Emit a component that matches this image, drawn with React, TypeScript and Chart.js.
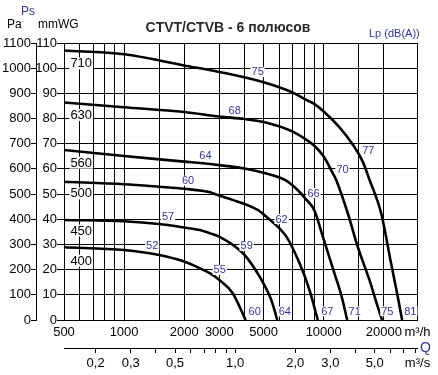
import { useEffect, useRef } from 'react';
import { Chart, registerables } from 'chart.js';

Chart.register(...registerables);

// ---------- axes ----------
const FLOW_MIN = 500;
const FLOW_MAX = 29500;
const FLOW_TICKS = [500, 600, 700, 800, 900, 1000, 1500, 2000, 3000, 4000, 5000, 6000, 7000, 8000, 9000, 10000, 15000, 20000, 29500];
const FLOW_TEXT = ['500', '', '', '', '', '1000', '', '2000', '3000', '', '5000', '', '', '', '', '10000', '', '20000', 'm³/h'];
const QS_TICKS = [0.2, 0.3, 0.4, 0.5, 0.6, 0.7, 0.8, 0.9, 1, 2, 3, 4, 5, 6, 7, 8];
const QS_TEXT = ['0,2', '0,3', '', '0,5', '', '', '', '', '1,0', '2,0', '3,0', '', '5,0', '', '', ''];
const QS_UNIT = 'm³/s';
const PA_MAX = 1100;
const MM_MAX = 110;

// ---------- fan curves (Q m³/h, Ps Pa) ----------
const SIZES = ['710', '630', '560', '500', '450', '400'];
const Q710 = [500, 1000, 2000, 3000, 5000, 7000, 8000, 9000, 10000, 12000, 14000, 15700, 16900, 19400, 21750, 23500, 24700];
const P710 = [1070, 1055, 1011, 985, 944, 903, 878, 857, 828, 765, 696, 628, 560, 424, 225, 92, 0];
const Q630 = [500, 1000, 2000, 3000, 4000, 5000, 7000, 8000, 9000, 10000, 11100, 11550, 13200, 14800, 16940, 18640, 19600];
const P630 = [864, 845, 826, 808, 798, 786, 748, 721, 691, 649, 583, 556, 424, 291, 159, 53, 0];
const Q560 = [500, 1000, 2000, 3000, 4000, 5000, 6400, 7400, 8200, 8960, 9900, 11320, 12310, 13110];
const P560 = [675, 651, 629, 615, 602, 585, 556, 516, 477, 437, 331, 185, 92, 0];
const Q500 = [500, 1000, 1500, 2000, 2700, 2950, 3500, 4670, 5160, 6500, 7570, 8490, 9340];
const P500 = [549, 539, 529, 521, 507, 496, 477, 437, 410, 331, 225, 119, 0];
const Q450 = [500, 1000, 1500, 2000, 2400, 2700, 3000, 3940, 4775, 5465, 5855];
const P450 = [397, 392, 381, 367, 357, 344, 331, 265, 172, 79, 0];
const Q400 = [500, 1000, 1500, 2000, 2400, 2700, 3000, 3500, 4064];
const P400 = [289, 278, 258, 232, 205, 185, 159, 106, 0];

// fan size labels
const SIZE_Q = 610;
const SIZE_P = [1019, 814, 625, 503, 355, 236];

// Lp dB(A) labels along curves
const LP_TEXT = ['75', '68', '64', '60', '57', '52', '77', '70', '66', '62', '59', '55', '81', '75', '71', '67', '64', '60'];
const LP_Q = [4666, 3580, 2555, 2091, 1661, 1382, 16720, 12420, 8890, 6150, 4110, 3013, 27160, 20840, 14300, 10430, 6380, 4510];
const LP_P = [985, 834, 652, 553, 410, 294, 675, 596, 504, 401, 294, 199, 35, 35, 35, 34, 34, 33];

const BLUE = '#35359a';
const FONT = '"Liberation Sans", Arial, Helvetica, sans-serif';

const SERIES = [
  { q: Q710, p: P710 },
  { q: Q630, p: P630 },
  { q: Q560, p: P560 },
  { q: Q500, p: P500 },
  { q: Q450, p: P450 },
  { q: Q400, p: P400 },
];

const textPlugin = {
  id: 'fanTexts',
  afterDraw(chart: any) {
    const c = chart.ctx as CanvasRenderingContext2D;
    const xs = chart.scales.x;
    const ys = chart.scales.pa;
    c.save();
    c.textAlign = 'center';
    c.textBaseline = 'middle';
    // Lp labels
    c.font = `11px ${FONT}`;
    LP_TEXT.forEach((t, i) => {
      const px = xs.getPixelForValue(LP_Q[i]);
      const py = ys.getPixelForValue(LP_P[i]);
      const w = c.measureText(t).width;
      c.fillStyle = '#fff';
      c.fillRect(px - w / 2 - 1, py - 5, w + 2, 10);
      c.fillStyle = BLUE;
      c.fillText(t, px, py + 0.5);
    });
    // size labels
    c.font = `13px ${FONT}`;
    SIZES.forEach((t, i) => {
      const px = xs.getPixelForValue(SIZE_Q);
      const py = ys.getPixelForValue(SIZE_P[i]);
      const w = c.measureText(t).width;
      c.fillStyle = '#fff';
      c.fillRect(px - w / 2 - 1, py - 6, w + 2, 12);
      c.fillStyle = '#000';
      c.fillText(t, px, py + 0.5);
    });
    // headers
    c.textBaseline = 'alphabetic';
    c.textAlign = 'center';
    c.font = `bold 14px ${FONT}`;
    c.fillStyle = '#2a2a2a';
    c.fillText('CTVT/CTVB - 6 полюсов', 228, 32);
    c.textAlign = 'left';
    c.font = `12px ${FONT}`;
    c.fillStyle = BLUE;
    c.fillText('Ps', 21, 15);
    c.fillStyle = '#000';
    c.fillText('Pa', 7, 28);
    c.fillText('mmWG', 38, 28);
    c.font = `11px ${FONT}`;
    c.fillStyle = BLUE;
    c.fillText('Lp (dB(A))', 369, 37);
    c.font = `14px ${FONT}`;
    c.textBaseline = 'middle';
    c.fillText('Q', 420, 348.5);
    c.restore();
  },
};

export default function App() {
  const ref = useRef<HTMLCanvasElement>(null);
  useEffect(() => {
    const canvas = ref.current;
    if (!canvas) return;
    const datasets = SERIES.map((s) => ({
      data: s.q.map((q, i) => ({ x: q, y: s.p[i] })),
      borderColor: '#000',
      borderWidth: 2.6,
      pointRadius: 0,
      cubicInterpolationMode: 'monotone' as const,
      fill: false,
      xAxisID: 'x',
      yAxisID: 'pa',
    }));
    const tickFont = { family: FONT, size: 13 };
    const chart = new Chart(canvas, {
      type: 'line',
      data: { datasets },
      options: {
        responsive: false,
        animation: false,
        devicePixelRatio: 1,
        layout: { padding: { top: 43, right: 20.5, left: 0, bottom: 0 } },
        plugins: { legend: { display: false }, tooltip: { enabled: false }, title: { display: false } },
        scales: {
          x: {
            type: 'logarithmic',
            position: 'bottom',
            weight: 1,
            min: FLOW_MIN,
            max: FLOW_MAX,
            afterBuildTicks: (s: any) => {
              s.ticks = FLOW_TICKS.map((v) => ({ value: v }));
            },
            afterFit: (s: any) => {
              s.height = 28;
            },
            grid: { color: '#000', lineWidth: 1, drawTicks: false },
            border: { color: '#000', width: 1 },
            ticks: {
              autoSkip: false,
              maxRotation: 0,
              minRotation: 0,
              padding: 5,
              color: '#000',
              font: tickFont,
              callback: (_v: any, i: number) => FLOW_TEXT[i] ?? '',
            },
          },
          xs: {
            type: 'logarithmic',
            position: 'bottom',
            weight: 2,
            min: FLOW_MIN / 3600,
            max: FLOW_MAX / 3600,
            afterBuildTicks: (s: any) => {
              s.ticks = [...QS_TICKS, FLOW_MAX / 3600].map((v) => ({ value: v }));
            },
            afterFit: (s: any) => {
              s.height = 27;
            },
            grid: {
              drawOnChartArea: false,
              drawTicks: true,
              tickLength: 5,
              color: '#000',
              tickColor: (ctx: any) => (ctx.tick && ctx.tick.value > 8.1 ? 'rgba(0,0,0,0)' : '#000'),
            },
            border: { color: '#000', width: 1 },
            ticks: {
              autoSkip: false,
              maxRotation: 0,
              minRotation: 0,
              padding: 3,
              color: '#000',
              font: tickFont,
              callback: (_v: any, i: number) => (i < QS_TEXT.length ? QS_TEXT[i] : QS_UNIT),
            },
          },
          mm: {
            type: 'linear',
            position: 'left',
            weight: 1,
            min: 0,
            max: MM_MAX,
            afterFit: (s: any) => {
              s.width = 28;
            },
            grid: { color: '#000', lineWidth: 1, drawTicks: true, tickLength: 7 },
            border: { color: '#000', width: 1 },
            ticks: { stepSize: 10, padding: 0, color: '#000', font: tickFont, callback: (v: any) => String(v) },
          },
          pa: {
            type: 'linear',
            position: 'left',
            weight: 2,
            min: 0,
            max: PA_MAX,
            afterFit: (s: any) => {
              s.width = 36;
            },
            grid: { drawOnChartArea: false, color: '#000', drawTicks: true, tickLength: 5 },
            border: { color: '#000', width: 1 },
            ticks: { stepSize: 100, padding: 0, color: '#000', font: tickFont, callback: (v: any) => String(v) },
          },
        },
      } as any,
      plugins: [textPlugin],
    });
    return () => chart.destroy();
  }, []);
  return (
    <div style={{ position: 'absolute', left: 0, top: 0, width: 438, height: 375, background: '#fff' }}>
      <canvas ref={ref} width={438} height={375} style={{ display: 'block', width: 438, height: 375 }} />
    </div>
  );
}
